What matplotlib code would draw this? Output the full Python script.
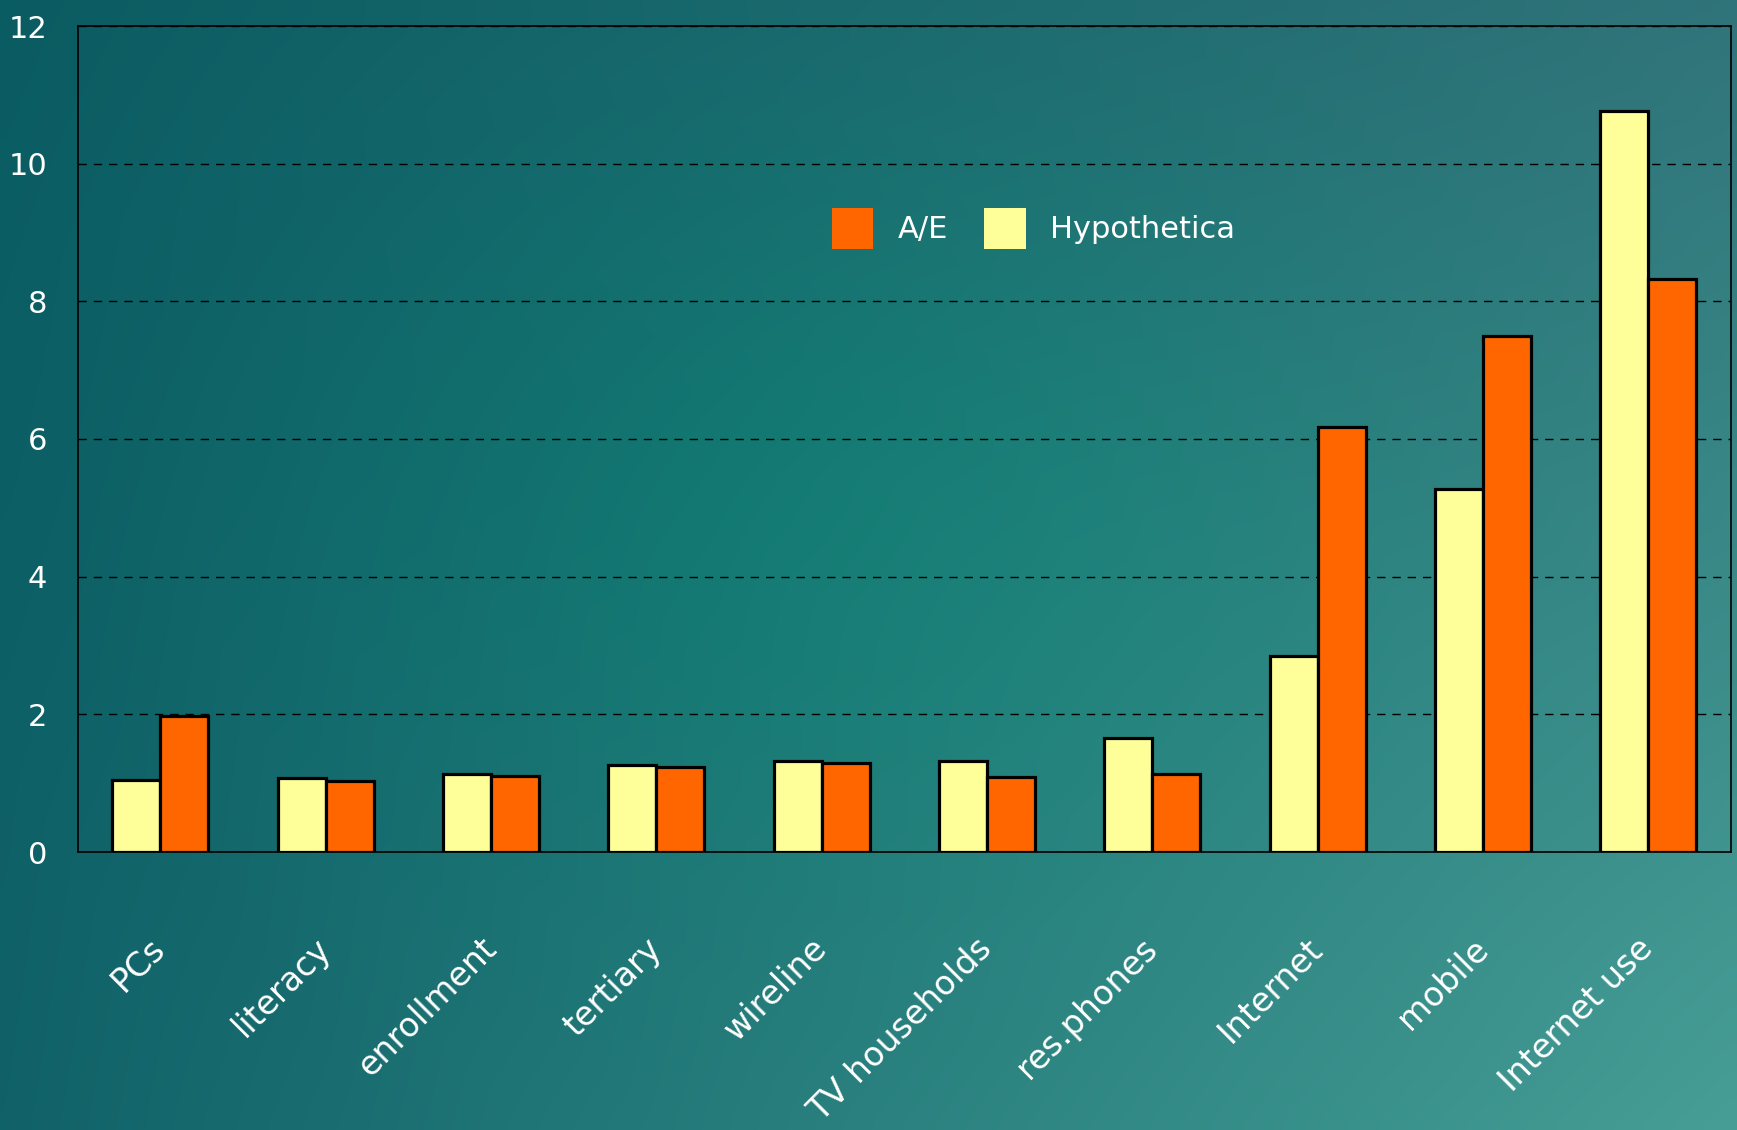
import numpy as np
import matplotlib
matplotlib.use("Agg")
import matplotlib.pyplot as plt

categories = ["PCs", "literacy", "enrollment", "tertiary", "wireline",
              "TV households", "res.phones", "Internet", "mobile", "Internet use"]
hypothetica = [1.05, 1.08, 1.13, 1.26, 1.32, 1.32, 1.66, 2.85, 5.28, 10.76]
ae = [1.98, 1.03, 1.11, 1.24, 1.29, 1.09, 1.13, 6.18, 7.50, 8.33]
yticks = [0, 2, 4, 6, 8, 10, 12]

W, H = 1737, 1130
fig = plt.figure(figsize=(W / 100, H / 100), dpi=100)

# background gradient
bg = fig.add_axes([0, 0, 1, 1], zorder=-10)
bg.set_axis_off()
ny, nx = 120, 180
yy, xx = np.mgrid[0:1:ny * 1j, 0:1:nx * 1j]
TL = np.array([10, 92, 98]) / 255
TR = np.array([48, 116, 122]) / 255
BL = np.array([16, 98, 104]) / 255
BR = np.array([70, 158, 150]) / 255
img = ((1 - xx)[..., None] * (1 - yy)[..., None] * TL + xx[..., None] * (1 - yy)[..., None] * TR
       + (1 - xx)[..., None] * yy[..., None] * BL + xx[..., None] * yy[..., None] * BR)
bump = np.exp(-(((xx - 0.5) / 0.3) ** 2 + ((yy - 0.45) / 0.35) ** 2))
img = img + bump[..., None] * np.array([-0.05, 0.04, 0.0])
img = np.clip(img, 0, 1)
bg.imshow(img, aspect="auto", extent=[0, 1, 0, 1], origin="upper", interpolation="bicubic")

left = 77.7 / W
right = 1731 / W
bottom = (H - 852) / H
top = (H - 26) / H
ax = fig.add_axes([left, bottom, right - left, top - bottom])
ax.set_facecolor("none")

x = np.arange(len(categories))
w = 0.29
b_h = ax.bar(x - w / 2, hypothetica, w, color="#FFFF99", edgecolor="black", linewidth=2.3,
             label="Hypothetica", zorder=3)
b_a = ax.bar(x + w / 2, ae, w, color="#FF6600", edgecolor="black", linewidth=2.3,
             label="A/E", zorder=3)

ax.set_xlim(-0.5, len(categories) - 0.5)
ax.set_ylim(0, 12)
ax.set_yticks(yticks)
ax.set_yticklabels([str(t) for t in yticks], color="white", fontsize=22)
ax.yaxis.grid(True, color="black", linestyle=(0, (6, 5)), linewidth=1.0, zorder=1)
ax.set_axisbelow(True)
ax.tick_params(axis="y", length=0, pad=22)
ax.tick_params(axis="x", length=0, pad=66)
ax.set_xticks(x)
ax.set_xticklabels(categories, color="white", fontsize=24)
for lab in ax.get_xticklabels():
    lab.set_rotation(45)
    lab.set_ha("right")
    lab.set_va("center")
    lab.set_rotation_mode("anchor")
for s in ax.spines.values():
    s.set_color("black")
    s.set_linewidth(1.2)

leg = ax.legend(handles=[b_a, b_h], labels=["A/E", "Hypothetica"], ncol=2, frameon=False,
                loc="center", bbox_to_anchor=(0.578, 0.755), fontsize=22,
                handlelength=1.35, handleheight=1.7, handletextpad=0.8, columnspacing=1.2)
for t in leg.get_texts():
    t.set_color("white")
for h in leg.legend_handles:
    h.set_linewidth(0)

fig.savefig("out.png", dpi=100)
